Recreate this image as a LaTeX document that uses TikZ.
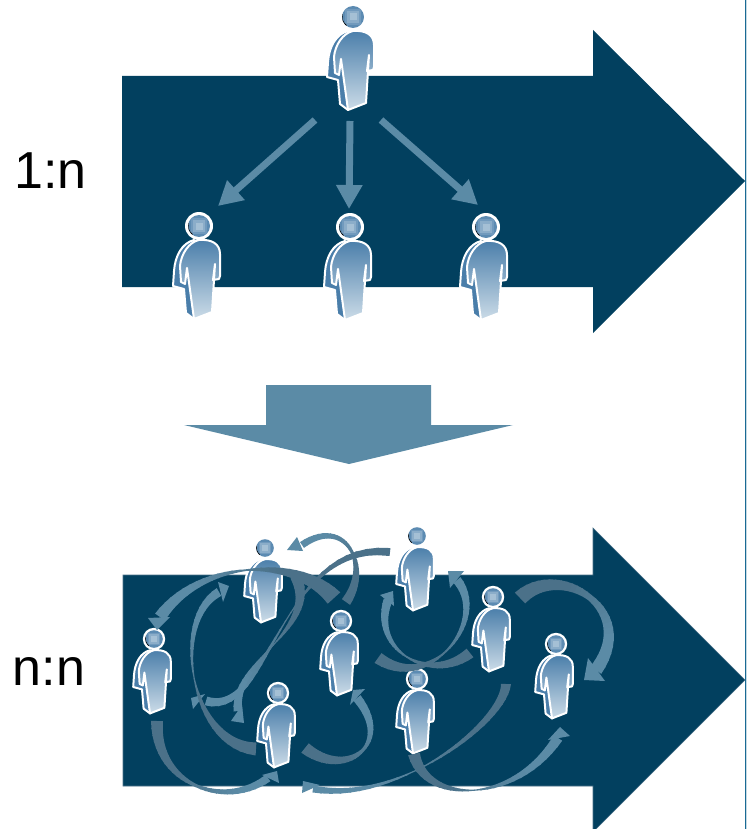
\documentclass[tikz,border=0pt]{standalone}
\usepackage{fontspec}
\setmainfont{Liberation Sans}
\usetikzlibrary{arrows.meta}
\definecolor{navy}{HTML}{02405F}
\definecolor{steelc}{HTML}{5B8BA6}
\definecolor{tailc}{HTML}{4B7189}
\definecolor{bodyc}{HTML}{4A7EAA}
\definecolor{legc}{HTML}{CCDCE8}
\definecolor{edgec}{HTML}{1A6A94}
\newcommand{\swpt}[1]{%
  \pgfmathsetmacro\tt{#1}%
  \pgfmathsetmacro\uu{1-\tt}%
  \pgfmathsetmacro\px{\uu*\uu*\uu*\ax+3*\uu*\uu*\tt*\bx+3*\uu*\tt*\tt*\cx+\tt*\tt*\tt*\dx}%
  \pgfmathsetmacro\py{\uu*\uu*\uu*\ay+3*\uu*\uu*\tt*\by+3*\uu*\tt*\tt*\cy+\tt*\tt*\tt*\dy}%
  \pgfmathsetmacro\tx{\uu*\uu*(\bx-\ax)+2*\uu*\tt*(\cx-\bx)+\tt*\tt*(\dx-\cx)}%
  \pgfmathsetmacro\ty{\uu*\uu*(\by-\ay)+2*\uu*\tt*(\cy-\by)+\tt*\tt*(\dy-\cy)}%
  \pgfmathsetmacro\ll{max(veclen(\tx,\ty),0.01)}%
  \pgfmathsetmacro\ww{0.5*(\tt<\tm ? \wa+(\wb-\wa)*\tt/\tm : \wb+(\wc-\wb)*(\tt-\tm)/(1-\tm))}%
  \pgfmathsetmacro\ox{-\ty/\ll*\ww}%
  \pgfmathsetmacro\oy{\tx/\ll*\ww}%
}
% centre line (four points), widths at tail / thin place / head end, thin place, arrowhead
\def\swoo(#1,#2)(#3,#4)(#5,#6)(#7,#8)#9{%
  \def\ax{#1}\def\ay{#2}\def\bx{#3}\def\by{#4}\def\cx{#5}\def\cy{#6}\def\dx{#7}\def\dy{#8}%
  \swooB#9}
\def\swooB#1/#2/#3/#4/#5/#6/#7/#8/#9;{%
  \def\wa{#1}\def\wb{#2}\def\wc{#3}\def\tm{#4}%
  \fill[steelc] (#5,#6) -- (#7,#8) -- (#9);%
  \foreach \i in {0,...,27}{%
    \pgfmathsetmacro\mixp{max(0,min(100,100*(0.78-\i/28)/0.45))}%
    \swpt{\i/28}%
    \edef\qa{(\px+\ox,\py+\oy)}\edef\qb{(\px-\ox,\py-\oy)}%
    \swpt{min(1,(\i+1.2)/28)}%
    \edef\qc{(\px+\ox,\py+\oy)}\edef\qd{(\px-\ox,\py-\oy)}%
    \fill[tailc!\mixp!steelc] \qa -- \qc -- \qd -- \qb -- cycle;%
  }}
\tikzset{
  bigarrow/.style={fill=navy,draw=none},
  flow/.style={draw=steelc,line width=7pt,-{Triangle[width=25pt,length=24pt]}},
  labeltext/.style={font=\fontsize{52}{52}\selectfont,text=black,inner sep=0pt,anchor=base},
  person/.pic={
    \path[fill=bodyc,draw=white,line width=2pt,line join=round]
      (-5,14) .. controls (-17,17) and (-24,30) .. (-25,45) -- (-26,60) -- (-15,63) -- (-13,87) -- (-5,93) -- (-3,60) -- cycle;
    \path[top color=bodyc,bottom color=legc,draw=white,line width=2pt,line join=round]
      (0,14) .. controls (13,13) and (21,18) .. (21,28) -- (21,50) -- (20,53) -- (14,54) -- (16,38) -- (13,86) -- (-5,93) -- (-12,42) -- (-14,58) -- (-18,56) -- (-19,40) .. controls (-18,28) and (-10,16) .. (0,14) -- cycle;
    \fill[white] (0,0) circle (14);
    \begin{scope}
      \clip (0,0) circle (11);
      \fill[bodyc!90!white] (-12,-12) rectangle (12,12);
      \fill[bodyc!70!legc] (-8,-8) rectangle (8,8);
      \fill[bodyc!50!legc] (-6,-6) rectangle (6,6);
      \fill[bodyc!30!legc] (-3.5,-3.5) rectangle (3.5,3.5);
      \draw[black,line width=1.6pt] (-11,-3) arc (195:125:11);
    \end{scope}
  }}
\begin{document}
\begin{tikzpicture}[x=1pt,y=-1pt]
\useasboundingbox (0,0) rectangle (750,829);
\clip (0,0) rectangle (750,829);
\fill[bigarrow] (122,76) -- (593,76) -- (593,30) -- (745,181) -- (593,333) -- (593,287) -- (122,287) -- cycle;
\path[bigarrow,draw=tailc,line width=.6pt] (123,575) -- (593,575) -- (593,528) -- (745,680) -- (593,832) -- (593,786) -- (123,786) -- cycle;
\fill[steelc] (266,385) -- (431,385) -- (431,425) -- (513,425) -- (349,464) -- (184,425) -- (266,425) -- cycle;
\draw[edgec,line width=1.6pt] (745.5,0) -- (745.5,829);
\fill[edgec!25] (746.3,0) rectangle (747,829);
\node[labeltext] (one) at (50.5,188) {1:n};
\node[labeltext] (many) at (49,685) {n:n};
% 1:n
\coordinate (s1) at (315,120); \coordinate (e1) at (218,206);
\coordinate (s2) at (350,121); \coordinate (e2) at (349,209);
\coordinate (s3) at (381,120); \coordinate (e3) at (478,205);
\draw[flow] (s1) -- (e1);
\draw[flow] (s2) -- (e2);
\draw[flow] (s3) -- (e3);
\pic (top) at (353,17) {person};
\pic (a) at (199,226) {person};
\pic (b) at (350,227) {person};
\pic (c) at (486,227) {person};
% n:n people
\foreach \n/\x/\y in {p1/154/639,p2/265/548,p3/341/621,p4/278/693,p5/417/536,p6/493/597,p7/417/679,p8/556/644}
  \pic[scale=.8] (\n) at (\x,\y) {person};
% swooshes
\swoo(346,602)(372,565)(345,515)(302,545){10/3/7/.45/297/537/287/550/303,551;}
\swoo(390,552)(280,540)(270,720)(206,701){8/.8/9/.45/205/694/191/698/193,709;}
\swoo(334,598)(295,555)(200,560)(160,617){17/1.5/12/.5/148/618/157/630/170,617;}
\swoo(256,749)(190,745)(170,620)(219,592){13/1/9/.5/218/582/229/586/223,602;}
\swoo(296,576)(320,630)(232,660)(238,711){12/.8/9/.5/231/721/244/723/242,705;}
\swoo(157,721)(155,785)(225,810)(268,778){12/3/8/.5/262/775/277/771/279,783;}
\swoo(305,748)(345,780)(395,745)(357,698){12/3/9/.55/365/689/353/690/350,705;}
\swoo(506,684)(505,720)(400,805)(313,789){10/.8/7/.6/320/785/303/781/302,793;}
\swoo(414,754)(425,805)(515,805)(558,738){12/1/10/.5/548/740/560/727/570,736;}
\swoo(520,598)(560,560)(640,610)(596,670){15/6/13/.5/605/681/584/680/588,658;}
\swoo(378,658)(430,695)(490,620)(457,580){12/1.5/9/.45/464/571/448/571/450,588;}
\swoo(470,653)(430,685)(370,650)(388,600){11/1.5/9/.5/380/595/393/591/394,606;}
\end{tikzpicture}
\end{document}
